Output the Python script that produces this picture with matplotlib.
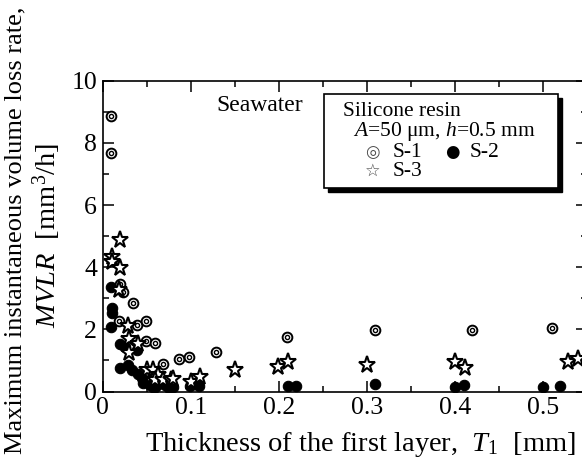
import matplotlib
matplotlib.use("Agg")
from matplotlib import pyplot as plt
from matplotlib.patches import Rectangle
from matplotlib.ticker import MultipleLocator

plt.rcParams['font.family'] = ['Liberation Serif', 'DejaVu Serif']
plt.rcParams['mathtext.fontset'] = 'custom'
plt.rcParams['mathtext.rm'] = 'Liberation Serif'
plt.rcParams['mathtext.it'] = 'Liberation Serif:italic'

# S-1 (double circles)
s1_t = [0.009, 0.009, 0.020, 0.023, 0.034, 0.019, 0.039, 0.049, 0.049, 0.059,
        0.069, 0.087, 0.098, 0.129, 0.209, 0.309, 0.419, 0.510]
s1_v = [8.86, 7.66, 3.46, 3.21, 2.86, 2.27, 2.15, 2.28, 1.64, 1.55,
        0.90, 1.05, 1.10, 1.28, 1.76, 1.97, 1.98, 2.04]

# S-2 (filled circles)
s2_t = [0.009, 0.010, 0.010, 0.009, 0.020, 0.025, 0.039, 0.020, 0.029, 0.033,
        0.040, 0.045, 0.046, 0.054, 0.058, 0.061, 0.065, 0.071, 0.075, 0.078,
        0.080, 0.099, 0.109, 0.210, 0.220, 0.309, 0.400, 0.410, 0.500, 0.519]
s2_v = [3.35, 2.68, 2.52, 2.09, 1.52, 1.44, 1.34, 0.75, 0.85, 0.70,
        0.58, 0.45, 0.28, 0.21, 0.12, 0.18, 0.30, 0.21, 0.12, 0.18,
        0.14, 0.18, 0.18, 0.19, 0.19, 0.24, 0.15, 0.21, 0.15, 0.19]

# S-3 (open stars)
s3_t = [0.020, 0.010, 0.011, 0.020, 0.019, 0.029, 0.030, 0.040, 0.030, 0.050,
        0.057, 0.063, 0.059, 0.069, 0.078, 0.080, 0.100, 0.110, 0.150, 0.199,
        0.211, 0.300, 0.400, 0.411, 0.529, 0.540]
s3_v = [4.87, 4.34, 4.18, 3.96, 3.27, 2.10, 1.68, 1.52, 1.23, 0.70,
        0.70, 0.53, 0.37, 0.37, 0.37, 0.39, 0.32, 0.46, 0.68, 0.80,
        0.96, 0.85, 0.96, 0.75, 0.96, 1.04]

fig = plt.figure(figsize=(5.82, 4.59), dpi=100)
# axes runs a little past the right edge of the picture, as in the scan
ax = fig.add_axes([0.1765, 0.147, 0.832, 0.677])

ax.plot(s2_t, s2_v, 'o', ms=7.5, mfc='black', mec='black', mew=0.8)
ax.plot(s1_t, s1_v, 'o', ms=7, mfc='white', mec='black', mew=1.4)
ax.plot(s1_t, s1_v, 'o', ms=3, mfc='white', mec='black', mew=1.0)
ax.plot(s3_t, s3_v, '*', ms=12.5, mfc='white', mec='black', mew=1.5)

ax.set_xlim(0, 0.55)
ax.set_ylim(0, 10)
ax.xaxis.set_major_locator(MultipleLocator(0.1))
ax.xaxis.set_minor_locator(MultipleLocator(0.05))
ax.yaxis.set_major_locator(MultipleLocator(2))
ax.yaxis.set_minor_locator(MultipleLocator(1))
ax.set_xticks([0, 0.1, 0.2, 0.3, 0.4, 0.5])
ax.set_xticklabels(['0', '0.1', '0.2', '0.3', '0.4', '0.5'])
ax.tick_params(which='both', direction='in', top=True, right=True,
               width=1.1, labelsize=18.5)
ax.tick_params(which='major', length=8, pad=4)
ax.tick_params(which='minor', length=4.3)
for sp in ax.spines.values():
    sp.set_linewidth(1.2)

ax.set_xlabel('Thickness of the first layer,  $T_1$  [mm]', fontsize=20.5)
ax.xaxis.set_label_coords(0.533, -0.125)

fig.text(0.026, 0.499, 'Maximum instantaneous volume loss rate,',
         rotation=90, ha='center', va='center', fontsize=19)
fig.text(0.081, 0.488, '$MVLR$  [mm$^3$/h]',
         rotation=90, ha='center', va='center', fontsize=20.5)

ax.text(0.235, 0.922, 'Seawater', fontsize=17, va='center', transform=ax.transAxes)

# legend box with shadow
ax.add_patch(Rectangle((0.465, 0.642), 0.483, 0.304, transform=ax.transAxes,
                       facecolor='black', edgecolor='black', zorder=5))
ax.add_patch(Rectangle((0.457, 0.655), 0.483, 0.304, transform=ax.transAxes,
                       facecolor='white', edgecolor='black', lw=1.2, zorder=6))
ax.text(0.497, 0.900, 'Silicone resin', fontsize=15.5, va='center',
        transform=ax.transAxes, zorder=7)
ax.text(0.516, 0.836, r'$\it{A}$=50 μm, $\it{h}$=0.5 mm', fontsize=15.5,
        va='center', transform=ax.transAxes, zorder=7)
ax.text(0.557, 0.770, '◎', fontsize=12, ha='center', va='center', color='0.3',
        family='DejaVu Sans', transform=ax.transAxes, zorder=7)
ax.text(0.599, 0.768, 'S-1', fontsize=15.5, va='center', transform=ax.transAxes, zorder=7)
ax.text(0.722, 0.770, '●', fontsize=12, ha='center', va='center',
        family='DejaVu Sans', transform=ax.transAxes, zorder=7)
ax.text(0.757, 0.768, 'S-2', fontsize=15.5, va='center', transform=ax.transAxes, zorder=7)
ax.text(0.557, 0.709, '☆', fontsize=12.5, ha='center', va='center', color='0.3',
        family='DejaVu Sans', transform=ax.transAxes, zorder=7)
ax.text(0.599, 0.707, 'S-3', fontsize=15.5, va='center', transform=ax.transAxes, zorder=7)

fig.savefig('out.png', dpi=100)
